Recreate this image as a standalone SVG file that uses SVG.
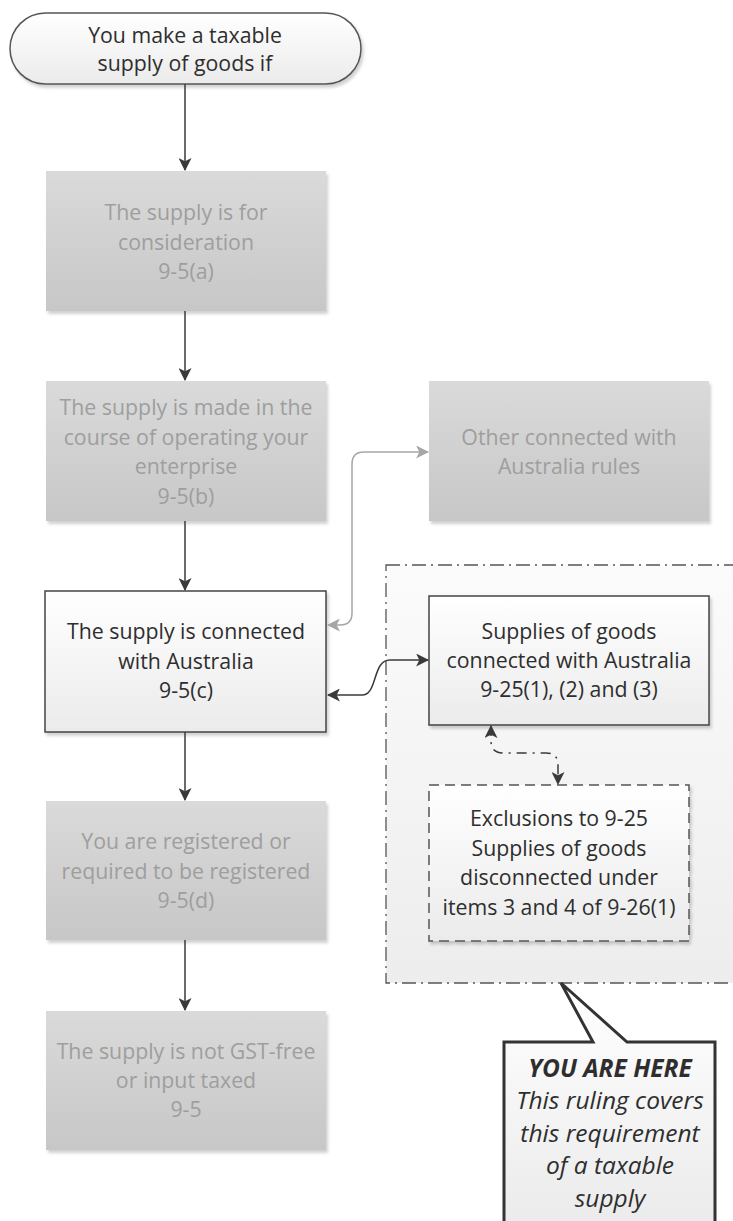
<svg xmlns="http://www.w3.org/2000/svg" width="733" height="1221" viewBox="0 0 733 1221">
<defs>
<linearGradient id="gGrey" x1="0" y1="0" x2="0" y2="1"><stop offset="0" stop-color="#dadada"/><stop offset="1" stop-color="#c7c7c7"/></linearGradient>
<linearGradient id="gWhite" x1="0" y1="0" x2="0" y2="1"><stop offset="0" stop-color="#ffffff"/><stop offset="1" stop-color="#ebebeb"/></linearGradient>
<linearGradient id="gPale" x1="0" y1="0" x2="0" y2="1"><stop offset="0" stop-color="#fbfbfb"/><stop offset="1" stop-color="#ededed"/></linearGradient>
<filter id="sh" x="-5%" y="-5%" width="115%" height="115%"><feDropShadow dx="2" dy="3" stdDeviation="1.5" flood-color="#000" flood-opacity="0.18"/></filter>
<marker id="aDark" viewBox="0 0 12 12" refX="11" refY="6" markerWidth="13" markerHeight="13" markerUnits="userSpaceOnUse" orient="auto-start-reverse"><path d="M0,0 L12,6 L0,12 L3,6 Z" fill="#3a3a3a"/></marker>
<marker id="aGrey" viewBox="0 0 12 12" refX="11" refY="6" markerWidth="13" markerHeight="13" markerUnits="userSpaceOnUse" orient="auto-start-reverse"><path d="M0,0 L12,6 L0,12 L3,6 Z" fill="#a6a6a6"/></marker>
</defs>
<style>
text{font-family:"Open Sans","Liberation Sans",sans-serif;font-size:21.3px;text-anchor:middle}
.gbox{fill:url(#gGrey);filter:url(#sh)}
.gt{fill:#9e9e9e}
.dt{fill:#2e2e2e}
.ct{font-size:24.5px;font-style:italic}
.wbox{fill:url(#gWhite);stroke:#444;stroke-width:1.5;filter:url(#sh)}
.conn{fill:none;stroke:#3a3a3a;stroke-width:1.5}
</style>

<g id="container">
<rect x="386" y="565" width="352" height="418" fill="url(#gPale)" stroke="#555" stroke-width="1.3" stroke-dasharray="14,5,2,5"/>
</g>

<g id="start">
<rect x="10" y="13" width="351" height="71" rx="35.5" fill="url(#gWhite)" stroke="#555" stroke-width="1.5" filter="url(#sh)"/>
<text class="dt" x="185" y="43">You make a taxable</text>
<text class="dt" x="185" y="71">supply of goods if</text>
</g>

<g id="n1">
<rect class="gbox" x="46" y="171" width="280" height="140"/>
<text class="gt" x="186" y="220">The supply is for</text>
<text class="gt" x="186" y="250">consideration</text>
<text class="gt" x="186" y="279">9-5(a)</text>
</g>

<g id="n2">
<rect class="gbox" x="46" y="381" width="280" height="140"/>
<text class="gt" x="186" y="415">The supply is made in the</text>
<text class="gt" x="186" y="445">course of operating your</text>
<text class="gt" x="186" y="474">enterprise</text>
<text class="gt" x="186" y="504">9-5(b)</text>
</g>

<g id="n3">
<rect class="wbox" x="45" y="591" width="281" height="141"/>
<text class="dt" x="186" y="639">The supply is connected</text>
<text class="dt" x="186" y="669">with Australia</text>
<text class="dt" x="186" y="698">9-5(c)</text>
</g>

<g id="n4">
<rect class="gbox" x="46" y="801" width="280" height="139"/>
<text class="gt" x="186" y="849">You are registered or</text>
<text class="gt" x="186" y="879">required to be registered</text>
<text class="gt" x="186" y="908">9-5(d)</text>
</g>

<g id="n5">
<rect class="gbox" x="46" y="1011" width="280" height="139"/>
<text class="gt" x="186" y="1059">The supply is not GST-free</text>
<text class="gt" x="186" y="1088">or input taxed</text>
<text class="gt" x="186" y="1117">9-5</text>
</g>

<g id="other">
<rect class="gbox" x="429" y="381" width="280" height="140"/>
<text class="gt" x="569" y="445">Other connected with</text>
<text class="gt" x="569" y="474">Australia rules</text>
</g>

<g id="supplies">
<rect class="wbox" x="429" y="596" width="280" height="129"/>
<text class="dt" x="569" y="639">Supplies of goods</text>
<text class="dt" x="569" y="668">connected with Australia</text>
<text class="dt" x="569" y="697">9-25(1), (2) and (3)</text>
</g>

<g id="exclusions">
<rect x="429" y="785" width="260" height="156" fill="url(#gWhite)" stroke="#555" stroke-width="1.5" stroke-dasharray="10,6" filter="url(#sh)"/>
<text class="dt" x="559" y="826">Exclusions to 9-25</text>
<text class="dt" x="559" y="856">Supplies of goods</text>
<text class="dt" x="559" y="885">disconnected under</text>
<text class="dt" x="559" y="915">items 3 and 4 of 9-26(1)</text>
</g>

<g id="callout">
<path d="M504,1224 V1042 H593 L561,983 L627,1042 H715 V1224" fill="url(#gWhite)" stroke="#333" stroke-width="3" stroke-linejoin="miter"/>
<text class="dt ct" x="610" y="1077" font-weight="bold">YOU ARE HERE</text>
<text class="dt ct" x="610" y="1109">This ruling covers</text>
<text class="dt ct" x="610" y="1142">this requirement</text>
<text class="dt ct" x="610" y="1174">of a taxable</text>
<text class="dt ct" x="610" y="1207">supply</text>
</g>

<g id="connectors">
<path class="conn" d="M185,84 V170" marker-end="url(#aDark)"/>
<path class="conn" d="M185,311 V380" marker-end="url(#aDark)"/>
<path class="conn" d="M185,521 V590" marker-end="url(#aDark)"/>
<path class="conn" d="M185,732 V800" marker-end="url(#aDark)"/>
<path class="conn" d="M185,940 V1010" marker-end="url(#aDark)"/>
<path d="M428,452 H364 Q352,452 352,464 V613 Q352,625 340,625 H328" fill="none" stroke="#a6a6a6" stroke-width="1.5" marker-start="url(#aGrey)" marker-end="url(#aGrey)"/>
<path class="conn" d="M328,695 H362 C378,695 372,660 390,660 H428" marker-start="url(#aDark)" marker-end="url(#aDark)"/>
<path class="conn" d="M491,726 V741 Q491,753 503,753 H546 Q558,753 558,765 V784" stroke-dasharray="10,6,2,6" marker-start="url(#aDark)" marker-end="url(#aDark)"/>
</g>
</svg>
